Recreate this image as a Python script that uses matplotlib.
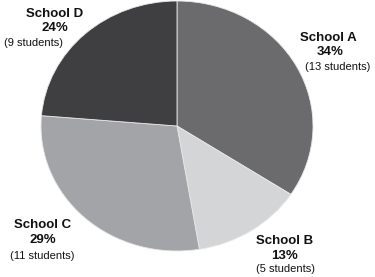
import matplotlib
matplotlib.use("Agg")
import matplotlib.pyplot as plt

schools = ["School A", "School B", "School C", "School D"]
students = [13, 5, 11, 9]
colors = ["#6b6b6e", "#d4d5d7", "#a3a4a7", "#3f3f42"]

# label anchor positions in pixels (x, y from top) for the three lines
label_pos = {
    "School A": [(328, 38), (330, 52), (338, 67)],
    "School B": [(285, 241), (285, 256), (285, 269)],
    "School C": [(43, 225), (43, 240), (42, 256)],
    "School D": [(55, 14), (55, 28), (33, 43)],
}

W, H = 375, 277
fig = plt.figure(figsize=(W / 100, H / 100), dpi=100)
ax = fig.add_axes([41 / W, (H - 251) / H, (313 - 41) / W, 250 / H])
ax.pie(students, colors=colors, startangle=90, counterclock=False,
       wedgeprops=dict(linewidth=0.6, edgecolor="#e8e8e8"))
ax.set_aspect("auto")
ax.set_xlim(-1.0, 1.0)
ax.set_ylim(-1.0, 1.0)
ax.axis("off")

total = sum(students)
fam = ["Liberation Sans", "DejaVu Sans"]
for name, n in zip(schools, students):
    pct = round(100 * n / total)
    (x1, y1), (x2, y2), (x3, y3) = label_pos[name]
    fig.text(x1 / W, 1 - y1 / H, name, ha="center", va="center",
             fontsize=9.5, fontweight="bold", family=fam, color="#111111")
    fig.text(x2 / W, 1 - y2 / H, f"{pct}%", ha="center", va="center",
             fontsize=9.5, fontweight="bold", family=fam, color="#111111")
    fig.text(x3 / W, 1 - y3 / H, f"({n} students)", ha="center", va="center",
             fontsize=8, family=fam, color="#111111")

fig.savefig("out.png", dpi=100, facecolor="white")
